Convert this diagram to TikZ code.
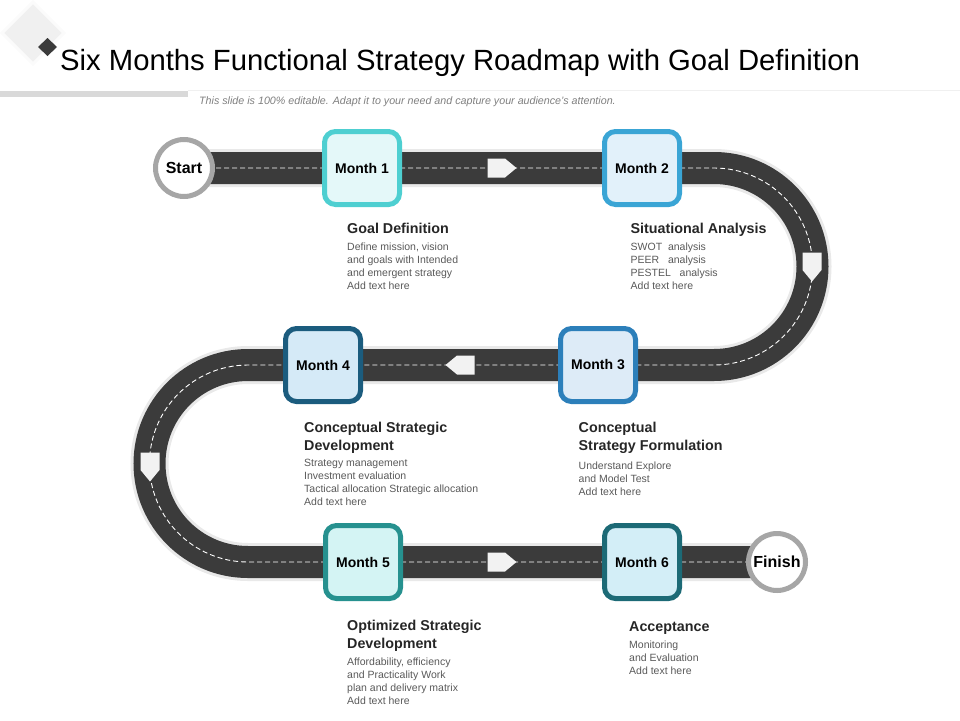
\documentclass[tikz,border=0pt]{standalone}
\usepackage{fontspec}
\setmainfont{Liberation Sans}
\usetikzlibrary{positioning,backgrounds}
\definecolor{roadgray}{HTML}{3B3B3B}
\definecolor{roadedge}{HTML}{E9E9E9}
\definecolor{markfill}{HTML}{F2F2F2}
\definecolor{ringgray}{HTML}{A6A6A6}
\definecolor{headgray}{HTML}{262626}
\definecolor{bodygray}{HTML}{595959}
\definecolor{subgray}{HTML}{7F7F7F}
\definecolor{bargray}{HTML}{D9D9D9}
\definecolor{bdA}{HTML}{4ECFD1}\definecolor{fiA}{HTML}{E4F8F9}
\definecolor{bdB}{HTML}{3AA5D5}\definecolor{fiB}{HTML}{E2F1FA}
\definecolor{bdC}{HTML}{2C7FBA}\definecolor{fiC}{HTML}{DDEBF7}
\definecolor{bdD}{HTML}{1B5C7E}\definecolor{fiD}{HTML}{D5EAF7}
\definecolor{bdE}{HTML}{26918F}\definecolor{fiE}{HTML}{D4F4F4}
\definecolor{bdF}{HTML}{1C6A76}\definecolor{fiF}{HTML}{D3EEF7}
\tikzset{
  monthbox/.style={draw, line width=5pt, rounded corners=11pt, minimum width=75pt,
    minimum height=73pt, inner sep=0pt, font=\bfseries\fontsize{14}{16}\selectfont},
  endpoint/.style={circle, draw=ringgray, fill=white, line width=5pt, minimum size=57pt,
    inner sep=0pt, font=\bfseries\fontsize{16}{18}\selectfont},
  headtxt/.style={anchor=base west, align=left, inner sep=0pt, text=headgray,
    font=\bfseries\fontsize{14.3}{18}\selectfont},
  bodytxt/.style={anchor=base west, align=left, inner sep=0pt, text=bodygray,
    font=\fontsize{10.5}{13}\selectfont},
  marker/.pic={\fill[markfill] (-14.5,-9.5) -- (3,-9.5) -- (14.5,0) -- (3,9.5) -- (-14.5,9.5) -- cycle;}
}
\begin{document}
\begin{tikzpicture}[x=1pt,y=-1pt]
   \useasboundingbox (0,0) rectangle (960,720);
   \fill[gray!12] (33,2) -- (64,33) -- (33,64) -- (2,33) -- cycle;
   \draw[white!70!gray!10,line width=3pt] (33,2) -- (64,33) -- (33,64) -- (2,33) -- cycle;
   \fill[roadgray] (47.5,38) -- (57,47) -- (47.5,56) -- (38,47) -- cycle;
   \node[anchor=base west, inner sep=0pt, font=\fontsize{29.25}{34}\selectfont] (title) at (60,70)
        {Six Months Functional Strategy Roadmap with Goal Definition};
   \fill[bargray] (0,91) rectangle (188,97);
   \draw[gray!12,line width=1pt] (188,90) -- (960,90);
   \node[anchor=base west, inner sep=0pt, text=subgray, font=\itshape\fontsize{10.7}{12}\selectfont] (sub) at (199,104)
        {This slide is 100\% editable. Adapt it to your need and capture your audience's attention.};
   \node[endpoint] (start) at (184,168) {Start};
   \node[endpoint] (finish) at (777,562) {Finish};
   \node[monthbox, draw=bdA, fill=fiA] (m1) at (362,168) {Month 1};
   \node[monthbox, draw=bdB, fill=fiB] (m2) at (642,168) {Month 2};
   \node[monthbox, draw=bdC, fill=fiC] (m3) at (598,365) {Month 3};
   \node[monthbox, draw=bdD, fill=fiD] (m4) at (323,365) {Month 4};
   \node[monthbox, draw=bdE, fill=fiE] (m5) at (363,562) {Month 5};
   \node[monthbox, draw=bdF, fill=fiF] (m6) at (642,562) {Month 6};
   \coordinate (bendR) at (714,168);
   \coordinate (bendL) at (248,365);
   \begin{scope}[on background layer]
    \foreach \w/\c in {38pt/roadedge,32pt/roadgray}
     \draw[\c,line width=\w] (start.center) -- (m1.center) -- (m2.center) -- (bendR)
           arc(90:-90:98.5pt) -- (m3.center) -- (m4.center) -- (bendL)
           arc(90:270:98.5pt) -- (m5.center) -- (m6.center) -- (finish.center);
    \draw[white,line width=0.9pt,dash pattern=on 5pt off 3pt] (start.center) -- (m1.center) -- (m2.center) -- (bendR)
           arc(90:-90:98.5pt) -- (m3.center) -- (m4.center) -- (bendL)
           arc(90:270:98.5pt) -- (m5.center) -- (m6.center) -- (finish.center);
    \pic at (502,168) {marker};
    \pic[rotate=-90] at (812,267) {marker};
    \pic[rotate=180] at (460,365) {marker};
    \pic[rotate=-90] at (150,467) {marker};
    \pic at (502,562) {marker};
   \end{scope}
   \node[headtxt] (h1) at (347,233) {Goal Definition};
   \node[bodytxt] (b1) at (347,289) {Define mission, vision\\and goals with Intended\\and emergent strategy\\Add text here};
   \node[headtxt] (h2) at (630.5,233) {Situational Analysis};
   \node[bodytxt] (b2) at (630.5,289) {SWOT\ \ analysis\\PEER\ \ \ analysis\\PESTEL\ \ \ analysis\\Add text here};
   \node[headtxt] (h3) at (578.5,450.5) {Conceptual\\Strategy Formulation};
   \node[bodytxt] (b3) at (578.5,495) {Understand Explore\\and Model Test\\Add text here};
   \node[headtxt] (h4) at (304,450.5) {Conceptual Strategic\\Development};
   \node[bodytxt] (b4) at (304,505.5) {Strategy management\\Investment evaluation\\Tactical allocation Strategic allocation\\Add text here};
   \node[headtxt] (h5) at (347,648) {Optimized Strategic\\Development};
   \node[bodytxt] (b5) at (347,704) {Affordability, efficiency\\and Practicality Work\\plan and delivery matrix\\Add text here};
   \node[headtxt] (h6) at (629,631.5) {Acceptance};
   \node[bodytxt] (b6) at (629,674) {Monitoring\\and Evaluation\\Add text here};
  \end{tikzpicture}
\end{document}
